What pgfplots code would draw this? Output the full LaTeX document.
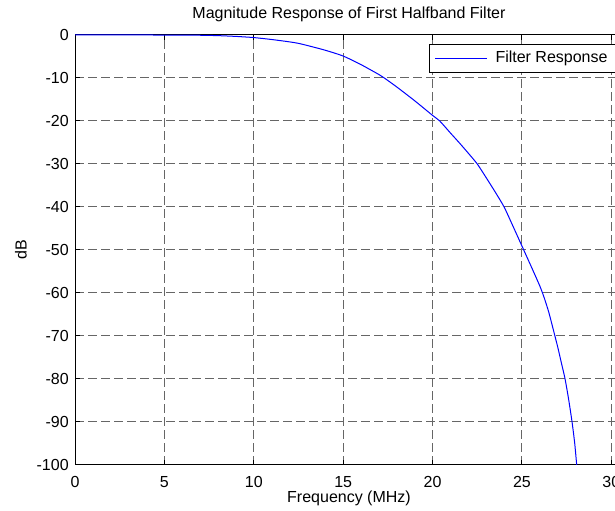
\documentclass[border=0pt]{standalone}
\usepackage{fontspec}
\setmainfont{Liberation Sans}
\usepackage{pgfplots}
\pgfplotsset{compat=1.18}
\newcommand{\ff}{\fontsize{9.6}{11.5}\selectfont}
\begin{document}
\begin{tikzpicture}
\begin{axis}[
  name=ax, at={(0,0)}, anchor=south west,
  scale only axis, width=328.8pt, height=258pt,
  xmin=0, xmax=30.65, ymin=-100, ymax=0,
  xtick={0,5,...,30}, ytick={-100,-90,...,0},
  /pgf/number format/assume math mode=true,
  tick label style={font=\ff},
  xticklabel style={anchor=base, yshift=-13.5pt, inner sep=0pt},
  yticklabel style={anchor=east, inner sep=0pt, xshift=-3.6pt},
  tick align=inside, major tick length=3pt,
  tick style={black, line width=0.6pt},
  axis line style={black, line width=0.6pt},
  grid=major,
  major grid style={dash pattern=on 5.4pt off 2.4pt, black!60, line width=0.6pt},
  title={Magnitude Response of First Halfband Filter},
  title style={font=\ff, at={(axis description cs:0.5,1)}, anchor=base, yshift=3.6pt, inner sep=0pt},
  xlabel={Frequency (MHz)},
  xlabel style={font=\ff, at={(axis description cs:0.5,0)}, anchor=base, yshift=-22.8pt, inner sep=0pt},
  ylabel={dB},
  ylabel style={font=\ff, at={(axis description cs:-0.0985,0.5)}, anchor=center, inner sep=0pt},
  legend style={font=\ff, at={(axis description cs:0.646,0.979)}, anchor=north west,
    draw=black, line width=0.6pt, inner xsep=3pt, inner ysep=2pt,
    nodes={inner xsep=3pt, inner ysep=2pt, text height=7pt, text depth=2pt}},
  legend image code/.code={\draw[#1] (0pt,0pt) -- (31.2pt,0pt);},
]
\addplot[blue, line width=0.6pt, smooth, tension=0.4] coordinates {
(0,0) (2,0) (4,0) (6,-0.02) (7,-0.06) (8,-0.15) (9,-0.33) (10,-0.6)
(11,-1.05) (12,-1.6) (12.5,-1.95) (13,-2.45) (14,-3.55) (15,-4.9)
(16,-6.9) (17,-9.2) (17.3,-10) (18,-12.1) (19,-15.3) (20,-18.7)
(20.4,-20) (21,-22.8) (21.5,-25.1) (22,-27.5) (22.5,-30) (23,-33.2)
(23.5,-36.5) (24,-40) (24.5,-44.5) (25,-49.1) (25.5,-53.7) (26,-58.4)
(26.25,-61.2) (26.5,-64.5) (26.75,-68.5) (27,-72.6) (27.2,-76.2)
(27.4,-79.8) (27.6,-84.5) (27.8,-90) (27.95,-95) (28.06,-100)
};
\addlegendentry{\hspace{1.8pt}Filter Response\hspace{3pt}}
\end{axis}
\pgfresetboundingbox
\path[use as bounding box] (-45pt,-27.6pt) rectangle (324pt,279pt);
\end{tikzpicture}
\end{document}
